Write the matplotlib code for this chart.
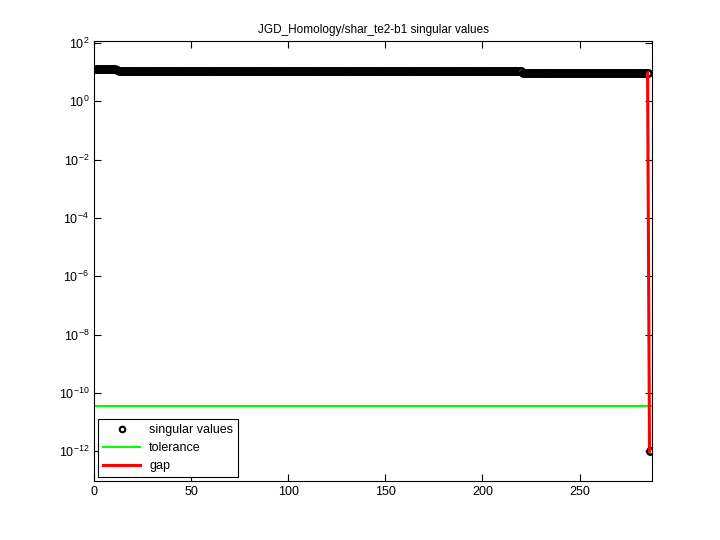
import matplotlib
matplotlib.use("Agg")
import matplotlib.pyplot as plt
import numpy as np

title = "JGD_Homology/shar_te2-b1 singular values"

# singular values (plateaus are flat in the picture)
sv_head = [12.9, 12.8, 12.8, 12.7, 12.7, 12.6, 12.6, 12.6, 12.5, 12.5, 12.5, 12.4]
sv_mid_value = 10.6
sv_mid_count = 208
sv_tail_value = 9.3
sv_tail_count = 65
sv_last = [1.0e-12]
tolerance = 3.5e-11
ytick_exps = [-12, -10, -8, -6, -4, -2, 0, 2]
xtick_vals = [0, 50, 100, 150, 200, 250]

sv = np.array(sv_head + [sv_mid_value] * sv_mid_count + [sv_tail_value] * sv_tail_count + sv_last)
idx = np.arange(1, len(sv) + 1)

plt.rcParams['font.family'] = ['Liberation Sans', 'DejaVu Sans']
plt.rcParams['axes.unicode_minus'] = False
plt.rcParams['mathtext.fontset'] = 'custom'
plt.rcParams['mathtext.rm'] = 'Liberation Sans'
plt.rcParams['mathtext.it'] = 'Liberation Sans'
plt.rcParams['mathtext.default'] = 'regular'

fig = plt.figure(figsize=(7.2, 5.4), dpi=100)
ax = fig.add_axes([0.1306, 0.109, 0.775, 0.815])

ax.semilogy(idx, sv, 'o', markerfacecolor='white', markeredgecolor='black',
            markersize=4.6, markeredgewidth=1.8, label='singular values', zorder=2)
ax.axhline(tolerance, color='#00ff00', linewidth=1.5, label='tolerance', zorder=1)
ax.plot([idx[-2], idx[-1]], [sv[-2], sv[-1]], color='red', linewidth=2.2, label='gap', zorder=3)

ax.set_xlim(0, 287.3)
ax.set_ylim(10 ** -13.03, 10 ** 2.07)
ax.set_xticks(xtick_vals)
ax.set_yticks([10.0 ** k for k in ytick_exps])
ax.set_yticklabels(['$10^{%d}$' % k for k in ytick_exps])
ax.yaxis.set_minor_locator(matplotlib.ticker.NullLocator())
ax.tick_params(direction='in', labelsize=9, length=5, top=True, right=True)
ax.set_title(title, fontsize=8.5)

leg = ax.legend(loc='lower left', fontsize=9, fancybox=False, edgecolor='black',
                framealpha=1, borderaxespad=0.3, handlelength=3.0, handletextpad=0.7)
leg.get_frame().set_linewidth(0.8)
leg.legend_handles[0].set_markersize(4)
leg.legend_handles[0].set_markeredgewidth(1.5)

fig.savefig('out.png', dpi=100)
